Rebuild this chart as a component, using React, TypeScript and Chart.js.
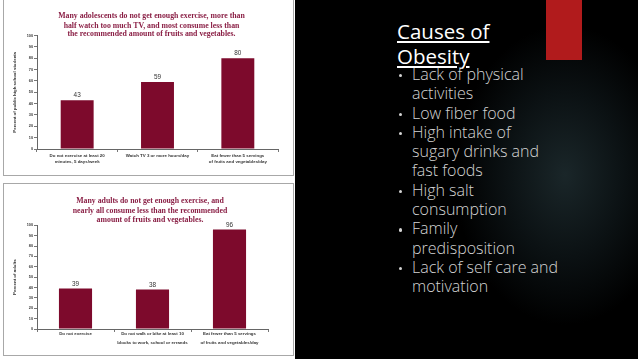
import React, { useEffect, useRef } from "react";
import { Chart, registerables } from "chart.js";

Chart.register(...registerables);

// ---------- data ----------
const topTitle = [
  "Many adolescents do not get enough exercise, more than",
  "half watch too much TV, and most consume less than",
  "the recommended amount of fruits and vegetables.",
];
const topCategories = [
  ["Do not exercise at least 20", "minutes, 5 days/week"],
  ["Watch TV 3 or more hours/day"],
  ["Eat fewer than 5 servings", "of fruits and vegetables/day"],
];
const topValues = [43, 59, 80];
const topAxisTitle = "Percent of public high school students";

const bottomTitle = [
  "Many adults do not get enough exercise, and",
  "nearly all consume less than the recommended",
  "amount of fruits and vegetables.",
];
const bottomCategories = [
  ["Do not exercise"],
  ["Do not walk or bike at least 10", "blocks to work, school or errands"],
  ["Eat fewer than 5 servings", "of fruits and vegetables/day"],
];
const bottomValues = [39, 38, 96];
const bottomAxisTitle = "Percent of adults";

const yMin = 0;
const yMax = 100;
const yStep = 10;

const slideTitle = ["Causes of", "Obesity"];
const bullets = [
  ["Lack of physical", "activities"],
  ["Low fiber food"],
  ["High intake of", "sugary drinks and", "fast foods"],
  ["High salt", "consumption"],
  ["Family", "predisposition"],
  ["Lack of self care and", "motivation"],
];

// ---------- chart ----------
const BAR = "#7d0a2c";
const TITLE = "#8a1f45";

const valueLabels = {
  id: "valueLabels",
  afterDatasetsDraw(chart: any) {
    const ctx = chart.ctx;
    const meta = chart.getDatasetMeta(0);
    ctx.save();
    ctx.font = "6.4px 'Liberation Sans', Arial, sans-serif";
    ctx.fillStyle = "#333";
    ctx.textAlign = "center";
    ctx.textBaseline = "bottom";
    meta.data.forEach((el: any, i: number) => {
      ctx.fillText(String(chart.data.datasets[0].data[i]), el.x, el.y - 1.5);
    });
    ctx.restore();
  },
};

const panelTitle = {
  id: "panelTitle",
  afterDraw(chart: any, _args: any, opts: any) {
    const ctx = chart.ctx;
    ctx.save();
    ctx.font = "bold 7.8px 'Liberation Serif', 'DejaVu Serif', serif";
    ctx.fillStyle = TITLE;
    ctx.textAlign = "center";
    ctx.textBaseline = "middle";
    (opts.lines || []).forEach((l: string, i: number) => {
      ctx.fillText(l, opts.cx, opts.ys[i]);
    });
    ctx.restore();
  },
};

type BarProps = {
  title: string[];
  titleX: number;
  titleYs: number[];
  categories: string[][];
  values: number[];
  axisTitle: string;
  width: number;
  height: number;
  barPct: number;
  padTop: number;
  padRight: number;
  xHeight: number;
  xLineHeight: number;
  xPad: number;
};

function BarChart(p: BarProps) {
  const ref = useRef<HTMLCanvasElement>(null);
  useEffect(() => {
    if (!ref.current) return;
    const chart = new Chart(ref.current, {
      type: "bar",
      data: {
        labels: p.categories,
        datasets: [
          {
            data: p.values,
            backgroundColor: BAR,
            borderWidth: 0,
            barPercentage: p.barPct,
            categoryPercentage: 1,
          },
        ],
      },
      plugins: [valueLabels, panelTitle],
      options: {
        responsive: false,
        animation: false,
        layout: { padding: { left: 0, right: p.padRight, top: p.padTop, bottom: 0 } },
        plugins: {
          legend: { display: false },
          tooltip: { enabled: false },
          title: { display: false },
          panelTitle: { lines: p.title, cx: p.titleX, ys: p.titleYs },
        },
        scales: {
          y: {
            min: yMin,
            max: yMax,
            afterFit: (s: any) => {
              s.width = 33;
            },
            ticks: {
              stepSize: yStep,
              autoSkip: false,
              color: "#333",
              padding: 1,
              font: { family: "'Liberation Sans', Arial, sans-serif", size: 3.8, weight: "bold" },
            },
            grid: { drawOnChartArea: false, tickLength: 3, color: "#777" },
            border: { color: "#666" },
            title: {
              display: true,
              text: p.axisTitle,
              color: "#333",
              padding: { top: 8, bottom: 0 },
              font: { family: "'Liberation Sans', Arial, sans-serif", size: 4.4, weight: "bold" },
            },
          },
          x: {
            afterFit: (s: any) => {
              s.height = p.xHeight;
            },
            ticks: {
              color: "#333",
              padding: p.xPad,
              maxRotation: 0,
              autoSkip: false,
              font: {
                family: "'Liberation Sans', Arial, sans-serif",
                size: 4.4,
                weight: "bold",
                lineHeight: p.xLineHeight,
              },
            },
            grid: { drawOnChartArea: false, tickLength: 3, color: "#777", offset: true },
            border: { color: "#666" },
          },
        },
      } as any,
    });
    return () => chart.destroy();
  }, []);
  return <canvas ref={ref} width={p.width} height={p.height} style={{ display: "block", width: p.width, height: p.height }} />;
}

export default function App() {
  return (
    <div
      style={{
        position: "fixed",
        left: 0,
        top: 0,
        width: 638,
        height: 359,
        overflow: "hidden",
        background: "#000",
      }}
    >
      {/* left white area */}
      <div style={{ position: "absolute", left: 0, top: 0, width: 295, height: 359, background: "#fff" }} />
      <div
        style={{
          position: "absolute",
          left: 3,
          top: -1,
          width: 289,
          height: 175,
          border: "1px solid #a8a8a8",
          background: "#fff",
        }}
      >
        <BarChart
          title={topTitle}
          titleX={147.5}
          titleYs={[16, 25.5, 34.3]}
          categories={topCategories}
          values={topValues}
          axisTitle={topAxisTitle}
          width={289}
          height={175}
          barPct={0.41}
          padTop={35.5}
          padRight={15}
          xHeight={26}
          xLineHeight={1.5}
          xPad={0}
        />
      </div>
      <div
        style={{
          position: "absolute",
          left: 3,
          top: 183,
          width: 289,
          height: 171,
          border: "1px solid #a8a8a8",
          background: "#fff",
        }}
      >
        <BarChart
          title={bottomTitle}
          titleX={146}
          titleYs={[17, 27, 36]}
          categories={bottomCategories}
          values={bottomValues}
          axisTitle={bottomAxisTitle}
          width={289}
          height={171}
          barPct={0.43}
          padTop={41.3}
          padRight={25}
          xHeight={26}
          xLineHeight={2.0}
          xPad={-2.5}
        />
      </div>

      {/* right dark area */}
      <div
        style={{
          position: "absolute",
          left: 295,
          top: 0,
          width: 343,
          height: 359,
          background:
            "radial-gradient(ellipse 110px 150px at 270px 175px, #1a2629 0%, #0b1113 55%, #000 100%)",
        }}
      />
      <div style={{ position: "absolute", left: 546, top: 0, width: 36, height: 60, background: "#b11b1c" }} />

      <div
        style={{
          position: "absolute",
          left: 397,
          top: 19,
          fontFamily: "'Open Sans', 'Noto Sans', sans-serif",
          fontSize: 20.5,
          lineHeight: "25px",
          color: "#fff",
          textDecoration: "underline",
          textDecorationThickness: "1.5px",
          textUnderlineOffset: "2px",
          whiteSpace: "nowrap",
        }}
      >
        {slideTitle.map((t, i) => (
          <div key={i}>{t}</div>
        ))}
      </div>

      <div
        style={{
          position: "absolute",
          left: 397,
          top: 65,
          fontFamily: "'Open Sans', 'Noto Sans', sans-serif",
          fontWeight: 300,
          fontSize: 16,
          lineHeight: "19.3px",
          color: "#d4d4d4",
          whiteSpace: "nowrap",
        }}
      >
        {bullets.map((lines, i) => (
          <div key={i} style={{ display: "flex" }}>
            <div style={{ width: 15, position: "relative" }}>
              <div
                style={{
                  position: "absolute",
                  left: 2,
                  top: 9,
                  width: 3.4,
                  height: 3.4,
                  borderRadius: "50%",
                  background: "#d4d4d4",
                }}
              />
            </div>
            <div>
              {lines.map((l, j) => (
                <div key={j}>{l}</div>
              ))}
            </div>
          </div>
        ))}
      </div>
    </div>
  );
}
